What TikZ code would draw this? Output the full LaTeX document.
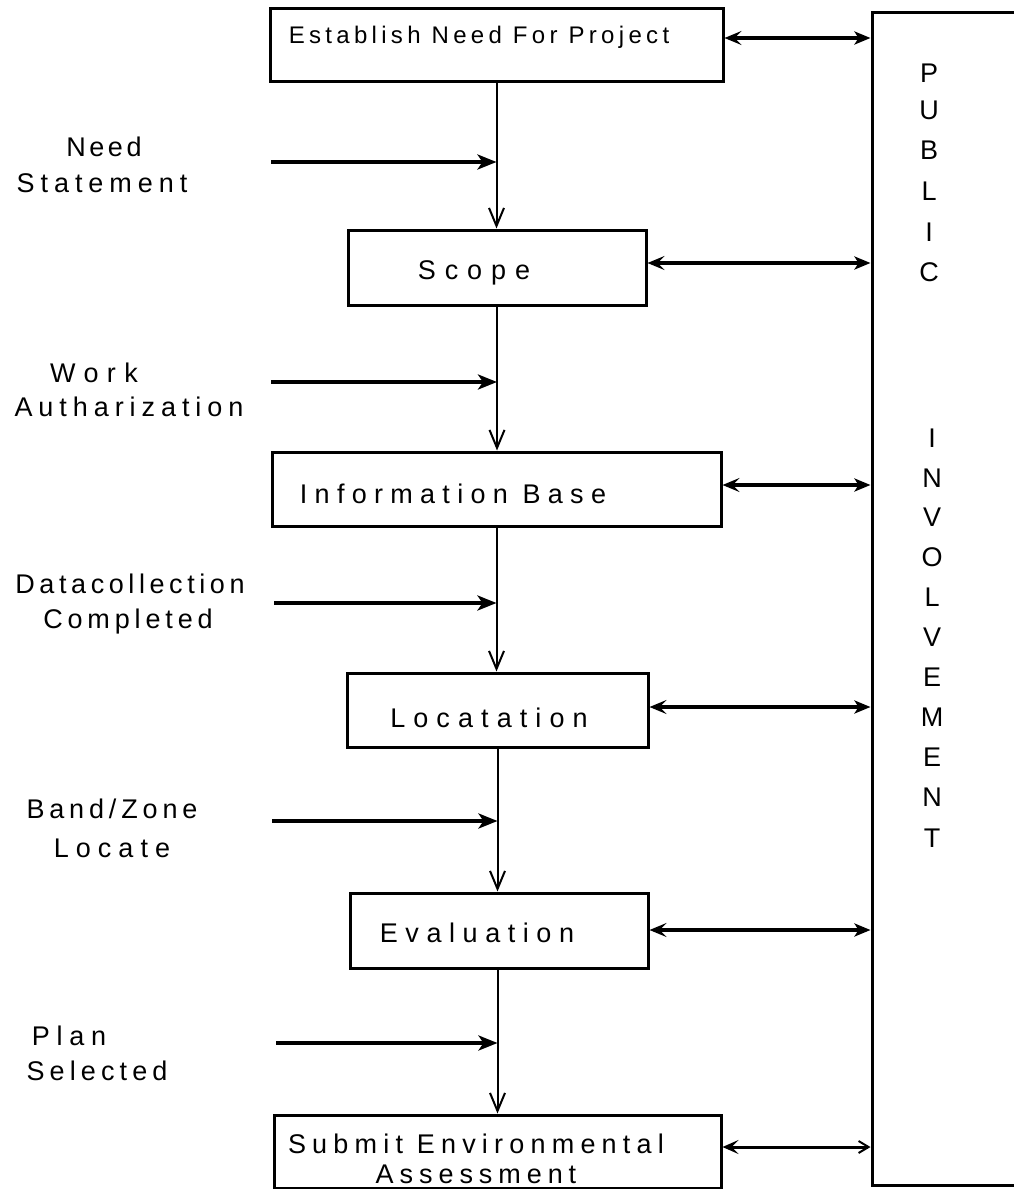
\documentclass[tikz,border=0pt]{standalone}
\usepackage{fontspec}
\setmainfont{Liberation Sans}
\usetikzlibrary{arrows.meta}
\newcommand\lsp[2]{{\addfontfeatures{LetterSpace=#1}#2}}
\tikzset{
  box/.style={draw, line width=3pt, inner sep=0pt},
  btxt/.style={inner sep=0pt, anchor=base, font=\fontsize{27}{30}\selectfont},
  ltxt/.style={inner sep=0pt, anchor=base, font=\fontsize{27}{30}\selectfont},
  pltr/.style={inner sep=0pt, font=\fontsize{27}{30}\selectfont},
  flow/.style={line width=2pt, -{Straight Barb[length=18pt,width=15pt,line width=2pt]}},
  feed/.style={line width=4.5pt, -{Stealth[length=19pt,width=15pt,inset=5pt]}},
  link/.style={line width=4pt, {Stealth[length=17pt,width=14pt,inset=7pt]}-{Stealth[length=16pt,width=13pt,inset=4pt]}}
}
\begin{document}
\begin{tikzpicture}[x=1pt,y=-1pt]
\useasboundingbox (0,0) rectangle (1013,1189);
% process boxes
\node[box, minimum width=453pt, minimum height=73pt] (b1) at (496.5,44.5) {};
\node[box, minimum width=298pt, minimum height=75pt] (b2) at (497,267.5) {};
\node[box, minimum width=449pt, minimum height=74pt] (b3) at (496.5,489) {};
\node[box, minimum width=301pt, minimum height=74pt] (b4) at (497.5,710) {};
\node[box, minimum width=298pt, minimum height=75pt] (b5) at (499,930.5) {};
\node[box, minimum width=447pt, minimum height=73pt] (b6) at (497.5,1151.5) {};
% public involvement box
\node[box, minimum width=160pt, minimum height=1173pt] (pub) at (952,598.5) {};
% box texts
\node[btxt, font=\fontsize{24}{28}\selectfont] (t1) at (479,43.5) {\lsp{18}{Establish Need For Project}};
\node[btxt] (t2) at (474,279) {\lsp{33}{Scope}};
\node[btxt] (t3) at (453,503) {\lsp{27}{Information Base}};
\node[btxt] (t4) at (489,727) {\lsp{30}{Locatation}};
\node[btxt] (t5) at (477,942) {\lsp{28}{Evaluation}};
\node[btxt] (t6a) at (476,1153) {\lsp{23}{Submit Environmental}};
\node[btxt] (t6b) at (476,1183) {\lsp{22}{Assessment}};
% left labels
\node[ltxt] (l1a) at (104,156) {\lsp{13}{Need}};
\node[ltxt] (l1b) at (102,192) {\lsp{22}{Statement}};
\node[ltxt] (l2a) at (94,382) {\lsp{31}{Work}};
\node[ltxt] (l2b) at (129,416) {\lsp{22}{Autharization}};
\node[ltxt] (l3a) at (130,593) {\lsp{17}{Datacollection}};
\node[ltxt] (l3b) at (128,628) {\lsp{18}{Completed}};
\node[ltxt] (l4a) at (112,818) {\lsp{18}{Band/Zone}};
\node[ltxt] (l4b) at (112,857) {\lsp{26}{Locate}};
\node[ltxt] (l5a) at (69,1045) {\lsp{25}{Plan}};
\node[ltxt] (l5b) at (97,1080) {\lsp{19}{Selected}};
% public involvement letters
\foreach \ch/\yy/\xx in {P/73/929,U/110/929,B/150/929,L/191/929,I/232/929,C/272/929,
  I/438/932,N/478/932,V/517/932,O/557/932,L/597/932,V/637/932,E/677/932,M/717/932,E/757/932,N/797/932,T/838/932}
  \node[pltr] (pub-\yy) at (\xx,\yy) {\ch};
% feed-in start points
\coordinate (f1) at (271,162);
\coordinate (f2) at (271,382);
\coordinate (f3) at (274,603);
\coordinate (f4) at (272,821);
\coordinate (f5) at (276,1043);
% main flow
\draw[flow] (b1.south) -- (b1.south |- b2.north);
\draw[flow] (b2.south) -- (b2.south |- b3.north);
\draw[flow] (b3.south) -- (b3.south |- b4.north);
\draw[flow] (b4.south) -- (b4.south |- b5.north);
\draw[flow] (b5.south -| b4.south) -- (b4.south |- b6.north);
% feed-in arrows
\draw[feed] (f1) -- (f1 -| b1.south);
\draw[feed] (f2) -- (f2 -| b2.south);
\draw[feed] (f3) -- (f3 -| b3.south);
\draw[feed] (f4) -- (f4 -| b4.south);
\draw[feed] (f5) -- (f5 -| b4.south);
% links to public involvement
\draw[link] ([yshift=6.5pt]b1.east) -- ([yshift=6.5pt]b1.east -| pub.west);
\draw[link] ([yshift=4.5pt]b2.east) -- ([yshift=4.5pt]b2.east -| pub.west);
\draw[link] ([yshift=4pt]b3.east) -- ([yshift=4pt]b3.east -| pub.west);
\draw[link] ([yshift=3pt]b4.east) -- ([yshift=3pt]b4.east -| pub.west);
\draw[link] ([yshift=0.5pt]b5.east) -- ([yshift=0.5pt]b5.east -| pub.west);
\draw[line width=3pt, {Stealth[length=16pt,width=14pt,inset=7pt]}-{Straight Barb[length=10pt,width=12pt,line width=2pt]}] ([yshift=4.5pt]b6.east) -- ([yshift=4.5pt]b6.east -| pub.west);
\end{tikzpicture}
\end{document}
